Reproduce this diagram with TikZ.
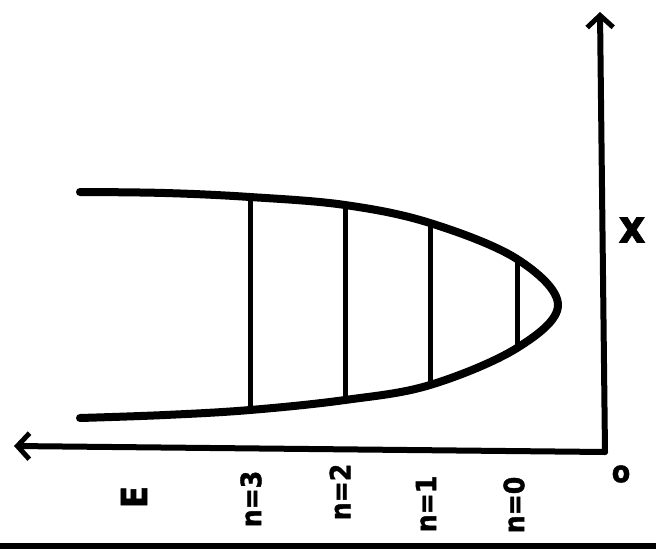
\documentclass[tikz,border=0pt]{standalone}
\usepackage{fontspec}
\newfontfamily\heavyfont{DejaVu Sans Condensed Bold}[FakeBold=1.5]
\usetikzlibrary{arrows.meta}
\begin{document}
\begin{tikzpicture}[x=1pt,y=-1pt,
  curve/.style={line width=8pt,line cap=round,line join=round},
  level/.style={line width=5pt},
  axis/.style={line width=6pt,line cap=round,-{Straight Barb[length=12pt,width=26pt,line width=5pt]}},
  lab/.style={font=\fontsize{28}{32}\selectfont\heavyfont,rotate=90,inner sep=0pt}]
\useasboundingbox (0,0) rectangle (656,555);
% axes
\coordinate (O) at (605,452);
\coordinate (Xtop) at (600,12);
\coordinate (Eend) at (14,446);
\draw[axis] (O) -- (Xtop);
\draw[axis] (O) -- (Eend);
% bottom rule
\coordinate (R1) at (0,546);
\coordinate (R2) at (656,546);
\draw[line width=6pt] (R1) -- (R2);
% parabola
\coordinate (T3) at (250,197);
\coordinate (T2) at (345,205);
\coordinate (T1) at (430,223);
\coordinate (T00) at (517,259);
\coordinate (B00) at (517,348);
\coordinate (B1) at (430,385);
\coordinate (B2) at (345,400);
\coordinate (B3) at (250,410);
\draw[curve] plot[smooth,tension=0.6] coordinates {(80,192) (165,193) (250,197) (345,205) (430,223) (517,259) (558,305) (517,348) (430,385) (345,400) (250,410) (165,415) (80,418)};
% level lines
\draw[level] (T3) -- (B3);
\draw[level] (T2) -- (B2);
\draw[level] (T1) -- (B1);
\draw[level] (T00) -- (B00);
% labels
\node[lab,font=\fontsize{36}{40}\selectfont\heavyfont] (lE) at (134,497) {E};
\node[lab] (l3) at (251,499) {n=3};
\node[lab] (l2) at (340,492) {n=2};
\node[lab] (l1) at (426,504) {n=1};
\node[lab] (l0) at (514,505) {n=0};
\node[font=\fontsize{46}{50}\selectfont\heavyfont,inner sep=0pt] (lx) at (632,230) {x};
\node[font=\fontsize{30}{34}\selectfont\heavyfont,inner sep=0pt] (lo) at (621,474) {o};
\end{tikzpicture}
\end{document}
